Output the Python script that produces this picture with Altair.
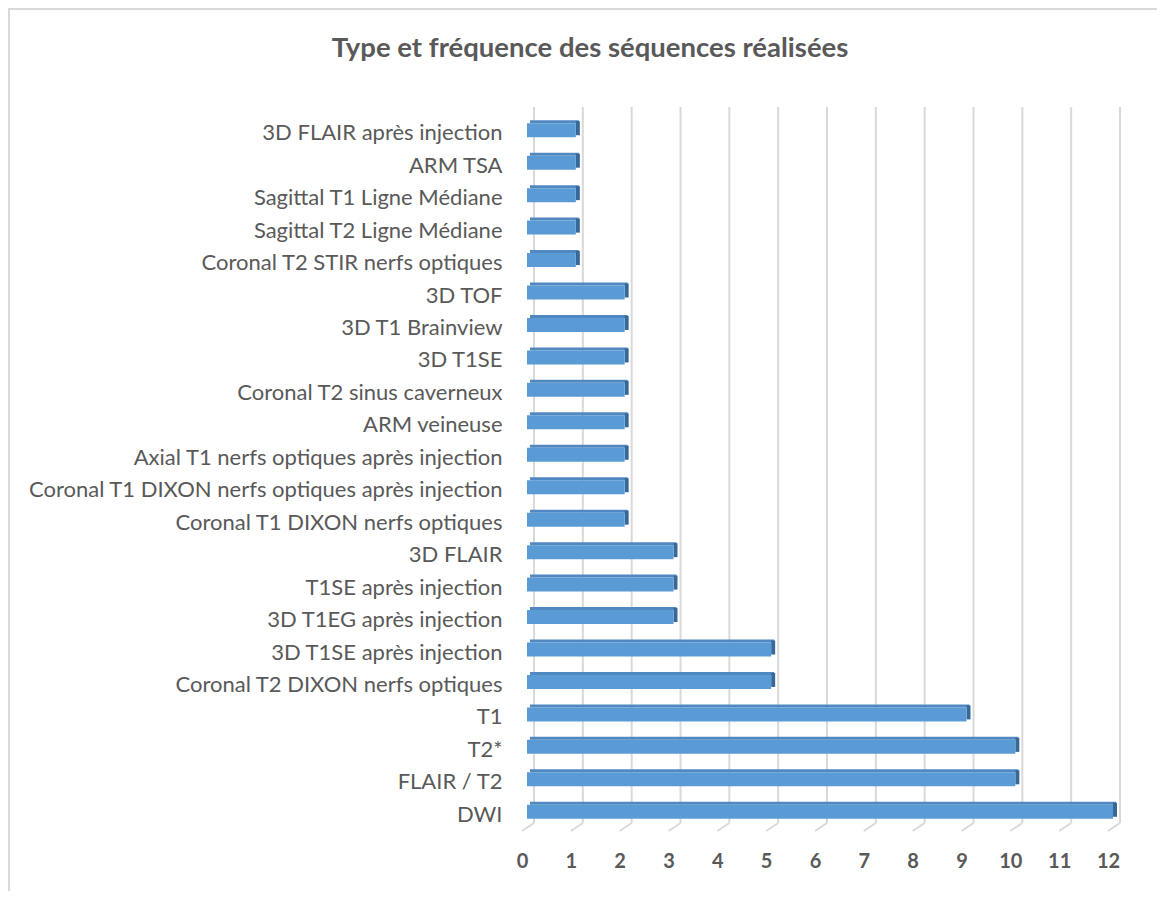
import altair as alt
import pandas as pd

categories = [
    "3D FLAIR après injection",
    "ARM TSA",
    "Sagittal T1 Ligne Médiane",
    "Sagittal T2 Ligne Médiane",
    "Coronal T2 STIR nerfs optiques",
    "3D TOF",
    "3D T1 Brainview",
    "3D T1SE",
    "Coronal T2 sinus caverneux",
    "ARM veineuse",
    "Axial T1 nerfs optiques après injection",
    "Coronal T1 DIXON nerfs optiques après injection",
    "Coronal T1 DIXON nerfs optiques",
    "3D FLAIR",
    "T1SE après injection",
    "3D T1EG après injection",
    "3D T1SE après injection",
    "Coronal T2 DIXON nerfs optiques",
    "T1",
    "T2*",
    "FLAIR / T2",
    "DWI",
]
values = [1, 1, 1, 1, 1, 2, 2, 2, 2, 2, 2, 2, 2, 3, 3, 3, 5, 5, 9, 10, 10, 12]
x_ticks = list(range(0, 13))

title_text = "Type et fréquence des séquences réalisées"

W = 586
H = 714
FONT = "Lato"
GREY = "#595959"

df = pd.DataFrame({"sequence": categories, "n": values})
ticks_df = pd.DataFrame({"t": x_ticks})
one_df = pd.DataFrame({"title": [title_text]})

x_scale = alt.Scale(domain=[0, 12], nice=False, zero=True)
y_scale = alt.Scale(domain=categories, paddingInner=0, paddingOuter=0)

x_axis = alt.Axis(
    values=x_ticks, grid=False, domain=False, ticks=False, title=None,
    labelFont=FONT, labelFontSize=20, labelFontWeight="bold", labelColor=GREY,
    labelPadding=23, labelOffset=-5, labelFlush=False,
)
y_axis = alt.Axis(
    title=None, domain=False, ticks=False, grid=False,
    labelFont=FONT, labelFontSize=22, labelColor=GREY,
    labelPadding=25, labelOffset=3, labelLimit=700,
)

# back-wall gridlines
grid = alt.Chart(ticks_df).mark_rule(color="#D9D9D9", strokeWidth=2, xOffset=7, x2Offset=7).encode(
    x=alt.X("t:Q", scale=x_scale, axis=x_axis),
    y=alt.value(-7),
    y2=alt.value(709),
)
# floor diagonals
floor = alt.Chart(ticks_df).mark_rule(color="#D9D9D9", strokeWidth=2, xOffset=7, x2Offset=-5).encode(
    x=alt.X("t:Q", scale=x_scale, axis=x_axis),
    x2="t:Q",
    y=alt.value(709),
    y2=alt.value(717),
)

front = alt.Chart(df).mark_bar(height=14, color="#5B9BD5", cornerRadius=0).encode(
    x=alt.X("n:Q", scale=x_scale, axis=x_axis),
    y=alt.Y("sequence:N", scale=y_scale, sort=categories, axis=y_axis),
    tooltip=["sequence", "n"],
)
top_face = alt.Chart(df).mark_bar(height=3, yOffset=-8.5, xOffset=3, x2Offset=3, color="#5088C2").encode(
    x=alt.X("n:Q", scale=x_scale, axis=x_axis),
    x2=alt.datum(0),
    y=alt.Y("sequence:N", scale=y_scale, sort=categories, axis=y_axis),
)
right_face = alt.Chart(df).mark_bar(height=14, yOffset=-2, x2Offset=4, color="#36689A").encode(
    x=alt.X("n:Q", scale=x_scale, axis=x_axis),
    x2="n:Q",
    y=alt.Y("sequence:N", scale=y_scale, sort=categories, axis=y_axis),
)

border_top = alt.Chart(ticks_df.head(1)).mark_rule(color="#D9D9D9", strokeWidth=2).encode(
    x=alt.value(-519), x2=alt.value(W + 44), y=alt.value(-105),
)
border_left = alt.Chart(ticks_df.head(1)).mark_rule(color="#D9D9D9", strokeWidth=2).encode(
    x=alt.value(-518), y=alt.value(-105), y2=alt.value(H + 63),
)

title_mark = alt.Chart(one_df).mark_text(
    font=FONT, fontSize=27.5, fontWeight="bold", color=GREY, align="center", baseline="alphabetic",
).encode(
    text="title:N",
    x=alt.value(63),
    y=alt.value(-57),
)

chart = alt.layer(border_top, border_left, title_mark, grid, floor, top_face, right_face, front).properties(
    width=W,
    height=H,
    autosize=alt.AutoSizeParams(type="none"),
    padding={"left": 519, "top": 106, "right": 44, "bottom": 63},
).configure(background="white", view=alt.ViewConfig(stroke=None))

chart.save("out.html", embed_options={"renderer": "svg", "actions": False})
